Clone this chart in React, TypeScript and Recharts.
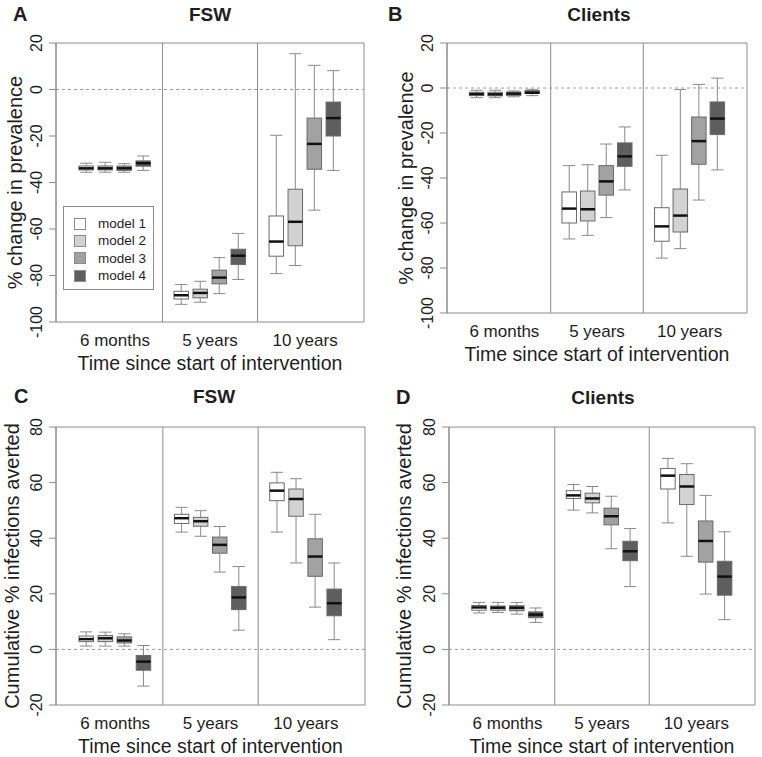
import React from 'react';
import { ComposedChart, Bar, XAxis, YAxis, ReferenceLine, ReferenceArea, Legend } from 'recharts';

const FONT = '"Liberation Sans", Arial, Helvetica, sans-serif';
const TEXT = '#1e1e1e';
const FRAME = '#8c8c8c';

const PERIODS = ['6 months', '5 years', '10 years'];
const MODELS = ['model 1', 'model 2', 'model 3', 'model 4'];
const MODEL_FILLS = ['#ffffff', '#d2d2d2', '#a2a2a2', '#5e5e5e'];

const PREV_TICKS = [-100, -80, -60, -40, -20, 0, 20];
const AVERTED_TICKS = [-20, 0, 20, 40, 60, 80];
const PERIOD_TICKS = [2.5, 7.5, 12.5];

// [min, q1, median, q3, max] per box; 6 months, 5 years, 10 years, models 1-4 each
const prevFsw = [
  [-35.6, -34.6, -33.9, -32.9, -31.7],
  [-35.6, -34.6, -33.9, -32.9, -31.3],
  [-35.6, -34.8, -33.9, -32.9, -31.9],
  [-34.8, -33.0, -31.7, -30.7, -28.6],
  [-92.4, -90.1, -88.5, -86.8, -83.9],
  [-91.5, -89.6, -87.5, -85.9, -82.5],
  [-87.8, -83.6, -80.9, -77.7, -72.3],
  [-81.7, -75.3, -71.5, -68.7, -61.9],
  [-79.2, -71.7, -65.4, -54.4, -19.7],
  [-75.7, -67.2, -56.9, -42.9, 15.4],
  [-51.9, -34.3, -23.4, -12.3, 10.4],
  [-34.8, -20.0, -12.3, -5.4, 8.1],
];

const prevClients = [
  [-4.3, -3.4, -2.7, -1.9, -1.0],
  [-4.3, -3.5, -2.8, -1.9, -1.0],
  [-3.9, -3.3, -2.5, -1.8, -1.3],
  [-3.4, -2.4, -2.1, -1.2, -0.6],
  [-67.1, -60.0, -53.6, -46.2, -34.5],
  [-65.5, -59.1, -53.9, -45.8, -34.1],
  [-57.6, -47.6, -41.5, -34.5, -24.9],
  [-45.3, -34.8, -30.4, -24.4, -17.3],
  [-75.6, -68.1, -61.5, -53.2, -29.9],
  [-71.4, -64.0, -56.7, -44.9, -0.7],
  [-49.8, -33.9, -23.6, -12.9, 1.6],
  [-36.4, -20.7, -13.6, -6.2, 4.4],
];

const avertedFsw = [
  [1.2, 2.8, 3.7, 4.8, 6.3],
  [1.2, 2.8, 4.0, 5.0, 6.2],
  [1.2, 2.3, 3.2, 4.5, 5.6],
  [-13.2, -7.5, -4.4, -2.2, 1.4],
  [42.2, 45.3, 47.2, 48.6, 51.1],
  [40.7, 44.3, 46.1, 47.5, 49.9],
  [27.8, 34.6, 37.6, 40.4, 44.2],
  [6.9, 14.3, 18.7, 22.6, 29.8],
  [42.2, 53.5, 57.1, 59.9, 63.7],
  [31.1, 47.9, 54.1, 57.7, 61.4],
  [15.2, 26.3, 33.4, 39.8, 48.6],
  [3.5, 12.1, 16.6, 21.7, 31.1],
];

const avertedClients = [
  [13.1, 14.1, 15.1, 15.8, 16.9],
  [13.3, 14.1, 15.0, 15.6, 16.9],
  [12.7, 13.9, 15.0, 15.7, 16.9],
  [9.7, 11.4, 12.5, 13.5, 14.9],
  [50.1, 54.3, 55.4, 57.1, 59.3],
  [49.1, 52.7, 54.3, 56.2, 58.6],
  [36.2, 44.8, 47.9, 50.8, 55.1],
  [22.6, 31.9, 35.3, 38.9, 43.5],
  [45.5, 57.7, 62.5, 65.1, 68.7],
  [33.5, 52.1, 58.6, 62.9, 66.8],
  [19.9, 31.4, 39.0, 46.2, 55.4],
  [10.7, 19.5, 26.2, 31.7, 42.3],
];

// one row per box, positions 1-4, 6-9, 11-14 like R's boxplot(at=...)
function toRows(stats: number[][]) {
  return stats.map((s, i) => {
    const period = Math.floor(i / MODELS.length);
    const model = i % MODELS.length;
    return { pos: period * 5 + model + 1, model, range: [s[0], s[4]], stats: s };
  });
}

// bar spans min..max through the y scale, inner stats placed linearly inside it
const BoxShape = (props: any) => {
  const { x, y, width, height } = props;
  const p = props.payload ?? props;
  const [lo, q1, med, q3, hi] = p.stats;
  const top = Math.min(y, y + height);
  const bottom = Math.max(y, y + height);
  const toPx = (v: number) => (hi === lo ? bottom : bottom - ((v - lo) / (hi - lo)) * (bottom - top));
  const cx = x + width / 2;
  const half = width / 2;
  const cap = width * 0.42;
  const wh = '#8a8a8a';
  return (
    <g>
      <line x1={cx} x2={cx} y1={toPx(hi)} y2={toPx(q3)} stroke={wh} />
      <line x1={cx} x2={cx} y1={toPx(q1)} y2={toPx(lo)} stroke={wh} />
      <line x1={cx - cap} x2={cx + cap} y1={toPx(hi)} y2={toPx(hi)} stroke={wh} />
      <line x1={cx - cap} x2={cx + cap} y1={toPx(lo)} y2={toPx(lo)} stroke={wh} />
      <rect x={cx - half} y={toPx(q3)} width={width} height={toPx(q1) - toPx(q3)}
        fill={MODEL_FILLS[p.model]} stroke="#6a6a6a" />
      <line x1={cx - half} x2={cx + half} y1={toPx(med)} y2={toPx(med)} stroke="#111" strokeWidth={2.5} />
    </g>
  );
};

const YTick = (props: any) => {
  const { x, y, payload } = props;
  const bx = x - 5;
  return (
    <text x={bx} y={y} transform={`rotate(-90, ${bx}, ${y})`} textAnchor="middle"
      fontSize={16} fontFamily={FONT} fill={TEXT}>
      {payload.value}
    </text>
  );
};

const XTick = (props: any) => {
  const { x, y, payload } = props;
  return (
    <text x={x} y={y + 16} textAnchor="middle" fontSize={17} fontFamily={FONT} fill={TEXT}>
      {PERIODS[Math.floor(payload.value / 5)]}
    </text>
  );
};

const LegendBox = () => (
  <div style={{ width: 91, height: 84, boxSizing: 'border-box', border: '1px solid #8c8c8c',
    background: '#fff', paddingTop: 8, fontFamily: FONT, fontSize: 13.5, color: TEXT }}>
    {MODELS.map((m, i) => (
      <div key={m} style={{ display: 'flex', alignItems: 'center', height: 17.3 }}>
        <span style={{ display: 'inline-block', width: 12, height: 12, marginLeft: 10, marginRight: 12,
          boxSizing: 'border-box', border: '1px solid #8a8a8a', background: MODEL_FILLS[i] }} />
        <span>{m}</span>
      </div>
    ))}
  </div>
);

type PanelProps = {
  left: number; top: number; w: number; h: number;
  plotLeft: number; plotTop: number; plotRight: number; plotBottom: number;
  stats: number[][]; yDomain: [number, number]; yTicks: number[];
  yTitle: string; yTitleX: number;
  letter: string; title: string; letterX: number; titleX: number; headY: number;
  showLegend?: boolean;
};

function Panel(p: PanelProps) {
  const rows = toRows(p.stats);
  const xH = p.h - p.plotBottom;
  return (
    <>
      <div style={{ position: 'absolute', left: p.left, top: p.top }}>
        <ComposedChart width={p.w} height={p.h} data={rows}
          margin={{ top: p.plotTop, right: p.w - p.plotRight, bottom: 0, left: 0 }}>
          <XAxis type="number" dataKey="pos" domain={[-0.6, 15.6]} ticks={PERIOD_TICKS} interval={0}
            axisLine={false} tickLine={false} tick={<XTick />} height={xH}
            label={{ content: (lp: any) => {
              const vb = lp.viewBox || {};
              return (
                <text x={vb.x + vb.width / 2} y={vb.y + 47.5} textAnchor="middle" fontSize={19.5}
                  fontFamily={FONT} fill={TEXT}>Time since start of intervention</text>
              );
            } }} />
          <YAxis type="number" domain={p.yDomain} ticks={p.yTicks} interval={0} width={p.plotLeft}
            axisLine={{ stroke: FRAME }} tickLine={{ stroke: FRAME }} tickSize={7} tick={<YTick />}
            label={{ content: (lp: any) => {
              const vb = lp.viewBox || {};
              const cy = vb.y + vb.height / 2;
              return (
                <text x={p.yTitleX} y={cy} transform={`rotate(-90, ${p.yTitleX}, ${cy})`} textAnchor="middle"
                  dominantBaseline="central" fontSize={20} fontFamily={FONT} fill={TEXT}>{p.yTitle}</text>
              );
            } }} />
          <ReferenceArea x1={-0.6} x2={15.6} y1={p.yDomain[0]} y2={p.yDomain[1]} fill="none" fillOpacity={0}
            stroke={FRAME} />
          <ReferenceLine x={5} stroke={FRAME} />
          <ReferenceLine x={10} stroke={FRAME} />
          <ReferenceLine y={0} stroke="#9a9a9a" strokeDasharray="3 3" />
          <Bar dataKey="range" barSize={14.5} shape={<BoxShape />} isAnimationActive={false} />
          {p.showLegend && (
            <Legend layout="vertical" align="center" verticalAlign="middle"
              wrapperStyle={{ left: 63, top: 206, width: 91, height: 84 }} content={() => <LegendBox />} />
          )}
        </ComposedChart>
      </div>
      <div style={{ position: 'absolute', left: p.letterX, top: p.headY, transform: 'translateY(-50%)',
        fontFamily: FONT, fontWeight: 'bold', fontSize: 20, color: TEXT, lineHeight: 1 }}>{p.letter}</div>
      <div style={{ position: 'absolute', left: p.titleX, top: p.headY, transform: 'translate(-50%, -50%)',
        fontFamily: FONT, fontWeight: 'bold', fontSize: 19, color: TEXT, lineHeight: 1, whiteSpace: 'nowrap' }}>
        {p.title}
      </div>
    </>
  );
}

export default function App() {
  return (
    <div style={{ position: 'absolute', left: 0, top: 0, width: 762, height: 757, background: '#fff' }}>
      <Panel left={0} top={0} w={381} h={378} plotLeft={56} plotTop={43} plotRight={364} plotBottom={322}
        stats={prevFsw} yDomain={[-100, 20]} yTicks={PREV_TICKS} yTitle="% change in prevalence" yTitleX={15}
        letter="A" title="FSW" letterX={13} titleX={210} headY={14} showLegend />
      <Panel left={381} top={0} w={381} h={378} plotLeft={66} plotTop={43} plotRight={366} plotBottom={313}
        stats={prevClients} yDomain={[-100, 20]} yTicks={PREV_TICKS} yTitle="% change in prevalence" yTitleX={25}
        letter="B" title="Clients" letterX={388} titleX={599} headY={14} />
      <Panel left={0} top={378} w={381} h={379} plotLeft={56} plotTop={49} plotRight={365} plotBottom={327}
        stats={avertedFsw} yDomain={[-20, 80]} yTicks={AVERTED_TICKS} yTitle="Cumulative % infections averted"
        yTitleX={12} letter="C" title="FSW" letterX={14} titleX={214} headY={396} />
      <Panel left={381} top={378} w={381} h={379} plotLeft={68} plotTop={49} plotRight={374} plotBottom={327}
        stats={avertedClients} yDomain={[-20, 80]} yTicks={AVERTED_TICKS} yTitle="Cumulative % infections averted"
        yTitleX={23} letter="D" title="Clients" letterX={396} titleX={603} headY={397} />
    </div>
  );
}
